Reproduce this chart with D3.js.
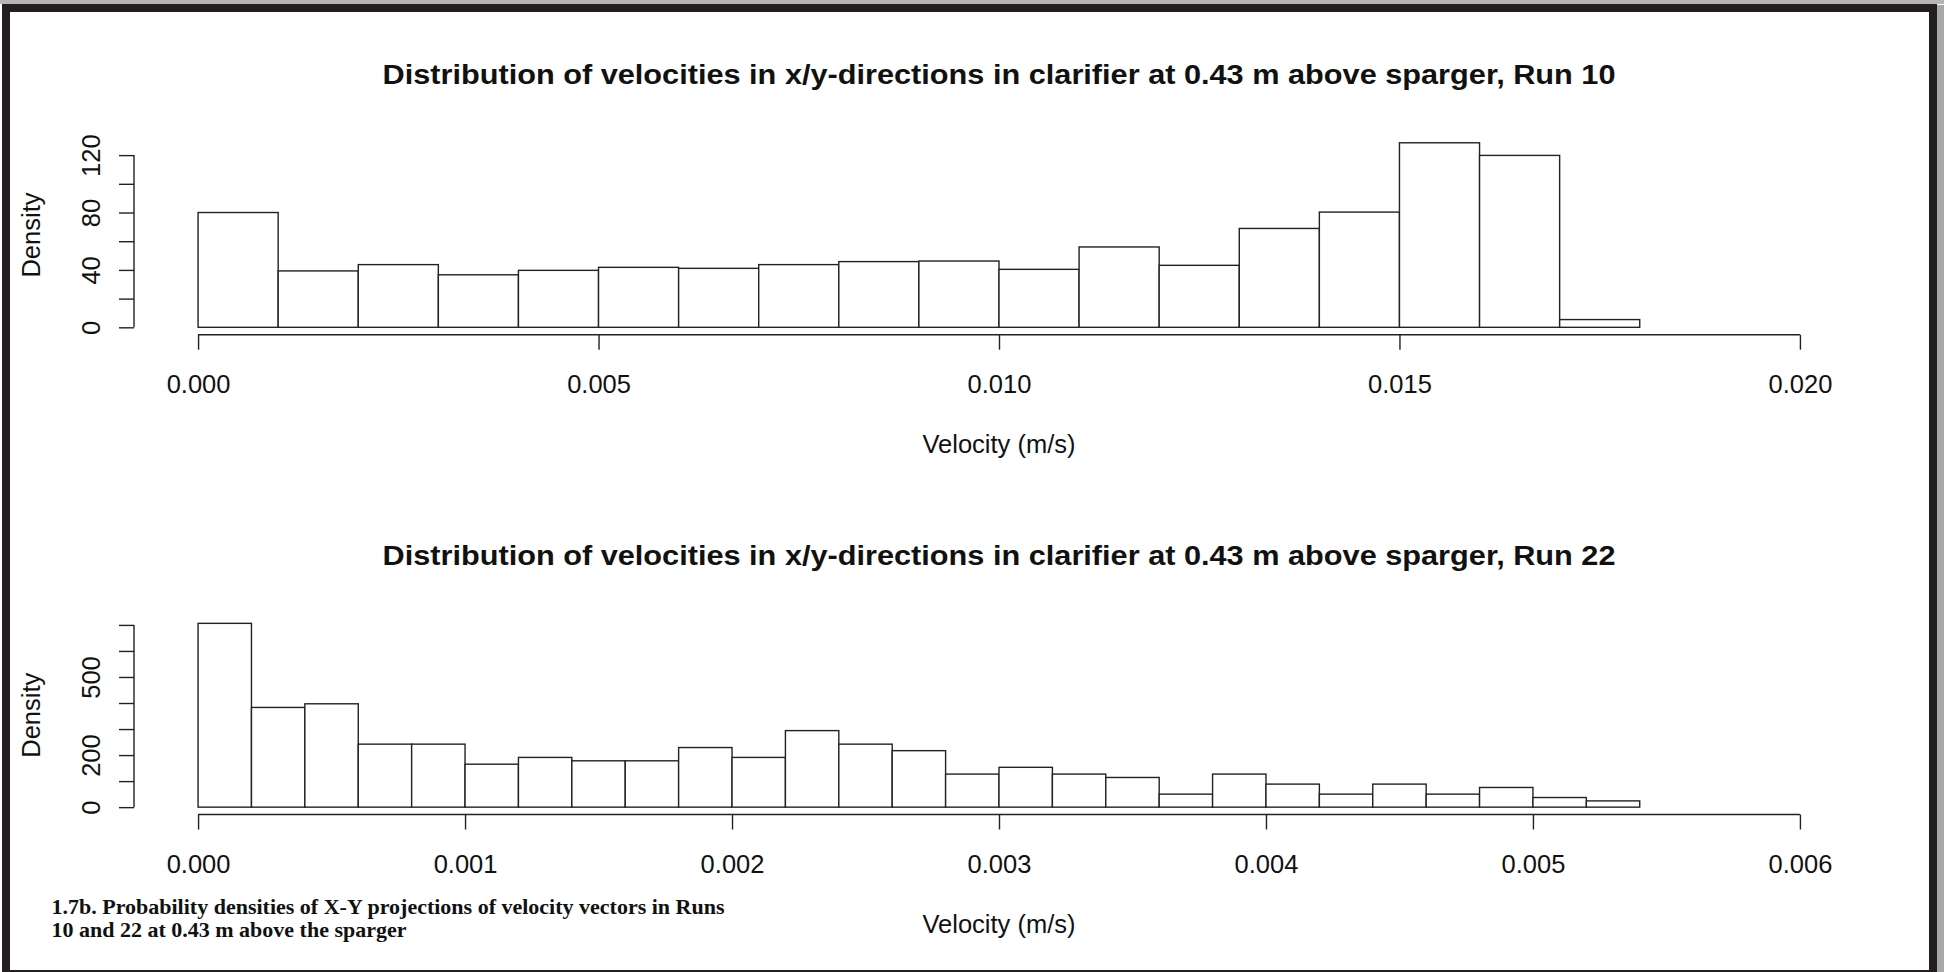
<!DOCTYPE html>
<html>
<head>
<meta charset="utf-8">
<script src="https://cdn.jsdelivr.net/npm/d3@7"></script>
<style>
  html, body { margin: 0; padding: 0; background: #fff; }
  svg { display: block; }
  text { font-family: "Liberation Sans", Arial, sans-serif; fill: #111; }
</style>
</head>
<body>
<svg id="chart" width="1944" height="972"></svg>
<script>
// ---------------- DATA ----------------
const title1 = "Distribution of velocities in x/y-directions in clarifier at 0.43 m above sparger, Run 10";
const title2 = "Distribution of velocities in x/y-directions in clarifier at 0.43 m above sparger, Run 22";
const xLabel = "Velocity (m/s)";
const yLabel = "Density";
const captionLines = [
  "1.7b. Probability densities of X-Y projections of velocity vectors in Runs",
  "10 and 22 at 0.43 m above the sparger"
];

// Run 10 histogram: bin width 0.001, starting at 0
const run10BinWidth = 0.001;
const run10Density = [80, 39.3, 43.7, 36.6, 39.7, 41.8, 41.1, 43.7, 45.8, 46.2,
                      40.4, 56, 43.2, 68.9, 80.3, 128.6, 119.8, 5.4];
const run10XTicks = [0, 0.005, 0.010, 0.015, 0.020];
const run10XLim = [0, 0.02];
const run10YTicks = [0, 20, 40, 60, 80, 100, 120];
const run10YLabels = [0, 40, 80, 120];

// Run 22 histogram: bin width 0.0002, starting at 0
const run22BinWidth = 0.0002;
const run22Density = [706, 383, 397, 242, 242, 165, 191, 178, 178, 229,
                      191, 294, 242, 217, 127, 153, 127, 114, 50, 127,
                      88.5, 50, 88.5, 50, 75.6, 37, 24];
const run22XTicks = [0, 0.001, 0.002, 0.003, 0.004, 0.005, 0.006];
const run22XLim = [0, 0.006];
const run22YTicks = [0, 100, 200, 300, 400, 500, 600, 700];
const run22YLabels = [0, 200, 500];

// ---------------- DRAW ----------------
const svg = d3.select("#chart");
const W = 1944, H = 972;
const ink = "#222";
const axisFont = "25.5px";

// page frame with slight shadow
svg.append("rect").attr("x", 0).attr("y", 0).attr("width", W).attr("height", 4).attr("fill", "#b5b5b5");
svg.append("rect").attr("x", 1936).attr("y", 5).attr("width", 8).attr("height", H - 5).attr("fill", "#a8a8a8");
svg.append("rect").attr("x", 6).attr("y", 8).attr("width", 1927).attr("height", 966)
   .attr("fill", "none").attr("stroke", "#231f20").attr("stroke-width", 8);

const plotLeft = 134, plotRight = 1864;

function drawHist(cfg) {
  const { title, binWidth, density, xTicks, xLim, yTicks, yLabels, top, bottom } = cfg;
  const g = svg.append("g");
  const xs = xLim[1] - xLim[0];
  const x = d3.scaleLinear()
    .domain([xLim[0] - 0.04 * xs, xLim[1] + 0.04 * xs])
    .range([plotLeft, plotRight]);
  const yMax = d3.max(density);
  const y = d3.scaleLinear()
    .domain([-0.04 * yMax, 1.04 * yMax])
    .range([bottom, top]);

  const bins = density.map((d, i) => ({ x0: i * binWidth, x1: (i + 1) * binWidth, d }));

  // bars
  g.selectAll("rect.bar").data(bins).join("rect")
    .attr("class", "bar")
    .attr("x", b => x(b.x0))
    .attr("width", b => x(b.x1) - x(b.x0))
    .attr("y", b => y(b.d))
    .attr("height", b => y(0) - y(b.d))
    .attr("fill", "#fff")
    .attr("stroke", ink)
    .attr("stroke-width", 1.4);

  // x axis (R style: line from first to last tick)
  const xAxis = d3.axisBottom(x).tickValues(xTicks).tickSize(15).tickPadding(0)
    .tickFormat(d3.format(".3f"));
  const gx = g.append("g").attr("transform", `translate(0,${bottom})`).call(xAxis);
  gx.select(".domain").remove();
  gx.selectAll(".tick line").attr("stroke", ink).attr("stroke-width", 1.4);
  gx.selectAll(".tick text").attr("y", 58.5).attr("dy", null)
    .style("font-size", axisFont).attr("fill", "#111");
  gx.append("line")
    .attr("x1", x(xTicks[0])).attr("x2", x(xTicks[xTicks.length - 1]))
    .attr("y1", 0).attr("y2", 0).attr("stroke", ink).attr("stroke-width", 1.4);

  // y axis
  const yAxis = d3.axisLeft(y).tickValues(yTicks).tickSize(15).tickPadding(0)
    .tickFormat(d => yLabels.includes(d) ? String(d) : "");
  const gy = g.append("g").attr("transform", `translate(${plotLeft},0)`).call(yAxis);
  gy.select(".domain").remove();
  gy.selectAll(".tick line").attr("stroke", ink).attr("stroke-width", 1.4);
  gy.selectAll(".tick text")
    .attr("x", null).attr("dy", null)
    .attr("text-anchor", "middle")
    .attr("transform", "translate(-34,0) rotate(-90)")
    .style("font-size", axisFont).attr("fill", "#111");
  gy.append("line")
    .attr("x1", 0).attr("x2", 0)
    .attr("y1", y(yTicks[0])).attr("y2", y(yTicks[yTicks.length - 1]))
    .attr("stroke", ink).attr("stroke-width", 1.4);

  const cx = (plotLeft + plotRight) / 2;
  // title
  g.append("text").attr("x", cx).attr("y", top - 51.5)
    .attr("text-anchor", "middle")
    .style("font-size", "27.5px").style("font-weight", "bold")
    .attr("textLength", 1233).attr("lengthAdjust", "spacingAndGlyphs")
    .text(title);
  // x label
  g.append("text").attr("x", cx).attr("y", bottom + 118.5)
    .attr("text-anchor", "middle").style("font-size", axisFont)
    .text(xLabel);
  // y label
  g.append("text")
    .attr("transform", `translate(${plotLeft - 94.5},${(top + bottom) / 2}) rotate(-90)`)
    .attr("text-anchor", "middle").style("font-size", axisFont)
    .text(yLabel);
}

drawHist({ title: title1, binWidth: run10BinWidth, density: run10Density,
  xTicks: run10XTicks, xLim: run10XLim, yTicks: run10YTicks, yLabels: run10YLabels,
  top: 135.4, bottom: 334.7 });

drawHist({ title: title2, binWidth: run22BinWidth, density: run22Density,
  xTicks: run22XTicks, xLim: run22XLim, yTicks: run22YTicks, yLabels: run22YLabels,
  top: 616, bottom: 814.5 });

// caption
const capLens = [673, 355];
svg.selectAll("text.caption").data(captionLines).join("text")
  .attr("class", "caption")
  .attr("x", 51.5)
  .attr("y", (d, i) => 914 + i * 23)
  .style("font-family", "'Liberation Serif', 'Times New Roman', serif")
  .style("font-weight", "bold")
  .style("font-size", "22px")
  .attr("textLength", (d, i) => capLens[i])
  .attr("lengthAdjust", "spacingAndGlyphs")
  .text(d => d);
</script>
</body>
</html>
